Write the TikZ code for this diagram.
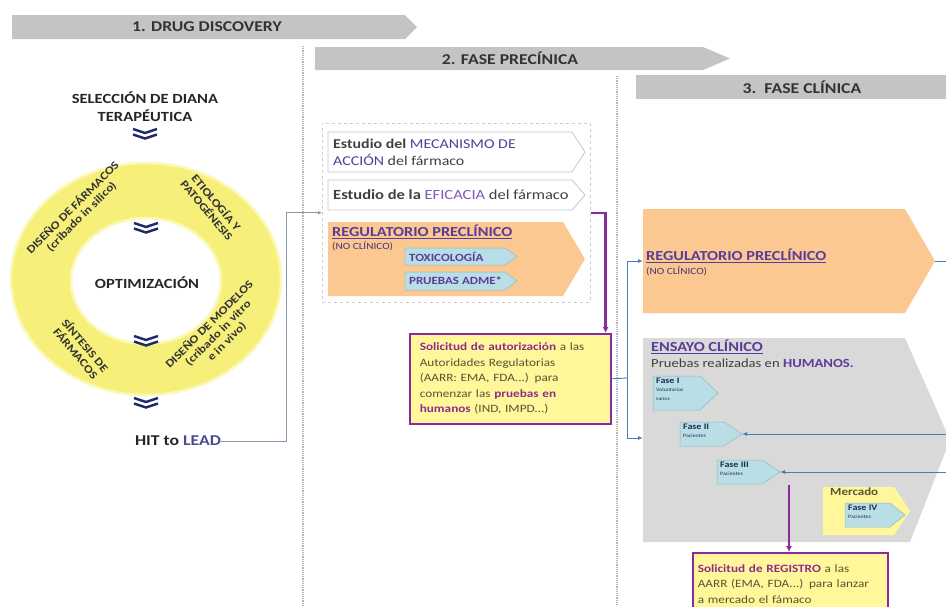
\documentclass[tikz,border=0pt]{standalone}
\usepackage{fontspec}
\setmainfont{Carlito}[FakeStretch=1.18]
\usetikzlibrary{arrows.meta}
\definecolor{bannergrey}{HTML}{C4C4C4}
\definecolor{dotgrey}{HTML}{B4B4B4}
\definecolor{ringyellow}{HTML}{F6F07A}
\definecolor{ringedge}{HTML}{FBF8B8}
\definecolor{navy}{HTML}{1F2A6B}
\definecolor{leadblue}{HTML}{4A4A8C}
\definecolor{hitline}{HTML}{8598A8}
\definecolor{purp}{HTML}{5B3C9A}
\definecolor{purplight}{HTML}{8458BC}
\definecolor{peach}{HTML}{FAC890}
\definecolor{fcyan}{HTML}{B9DEE6}
\definecolor{fcyanedge}{HTML}{8FB8C4}
\definecolor{ensgrey}{HTML}{D9D9D9}
\definecolor{yfill}{HTML}{FFF79A}
\definecolor{pline}{HTML}{8A2A9C}
\definecolor{pboxc}{HTML}{8C2D8C}
\definecolor{boxtext}{HTML}{555533}
\definecolor{bline}{HTML}{4A7EBB}
\definecolor{wedge}{HTML}{C8C8C8}
\definecolor{faseblue}{HTML}{1F3050}
\newcommand\fasesmall{\mdseries\fontsize{5}{5.5}\selectfont}
\tikzset{
  bantext/.style={font=\bfseries\fontsize{15}{17}\selectfont, text=black!80},
  lbold/.style={font=\bfseries\fontsize{14}{18}\selectfont, text=black!85, align=center},
  ringtxt/.style={font=\bfseries\fontsize{11.2}{12.3}\selectfont, text=black!80, align=center},
  dotline/.style={dotgrey, line width=1.2pt, densely dotted},
  wbox/.style={fill=white, draw=wedge, line width=0.8pt},
  midtxt/.style={font=\fontsize{13.5}{17}\selectfont, text=black!75, align=left, anchor=west},
  regtitle/.style={font=\bfseries\fontsize{13.8}{15}\selectfont, text=purp, anchor=west},
  nocl/.style={font=\fontsize{9.5}{10}\selectfont, text=purp!80!black, anchor=west},
  cyanbox/.style={fill=fcyan, draw=fcyanedge, line width=0.5pt},
  cyantxt/.style={font=\bfseries\fontsize{11}{12}\selectfont, text=purp, anchor=west},
  ybox/.style={draw=pline, line width=1.6pt, fill=yfill, align=left, text=boxtext,
    font=\fontsize{11.2}{15.5}\selectfont},
  faset/.style={font=\bfseries\fontsize{8.5}{9}\selectfont, text=faseblue, anchor=north west, align=left},
  purpline/.style={pline, line width=2.4pt, -{Latex[length=6pt,width=6pt]}},
  blueline/.style={bline, line width=0.9pt},
  bluearrow/.style={bline, line width=0.9pt, -{Latex[length=5pt,width=4pt]}},
  chev/.pic={\draw[navy,line width=2.4pt] (-12,-5) -- (0,-1) -- (12,-5);
             \draw[navy,line width=2.4pt] (-12,0.5) -- (0,4.5) -- (12,0.5);}
}
\begin{document}
\begin{tikzpicture}[x=1pt,y=-1pt, every node/.style={inner sep=0pt}]
\useasboundingbox (0,0) rectangle (946,606);
\clip (0,0) rectangle (946,606);
% banners
\fill[bannergrey] (12,15) -- (405,15) -- (417,27) -- (405,39) -- (12,39) -- cycle;
\node[bantext] (b1) at (207,27) {1. DRUG DISCOVERY};
\fill[bannergrey] (315,47) -- (703,47) -- (730,58.5) -- (703,70) -- (315,70) -- cycle;
\node[bantext] (b2) at (510,58.5) {2. FASE PRECÍNICA};
\fill[bannergrey] (636,75) rectangle (946,99);
\node[bantext] (b3) at (802,87) {3.\ \ FASE CLÍNICA};
% dotted separators
\draw[dotline] (303,46) -- (303,606);
\draw[dotline] (617,76) -- (617,606);
% left part
\node[lbold] (sel) at (145,107) {SELECCIÓN DE DIANA\\TERAPÉUTICA};
\fill[ringyellow, even odd rule] (146,279) ellipse [x radius=136pt, y radius=117pt]
      (146,281) ellipse [x radius=74pt, y radius=62pt];
\draw[ringedge, line width=2.5pt] (146,279) ellipse [x radius=135pt, y radius=116pt];
\draw[ringedge, line width=2.5pt] (146,281) ellipse [x radius=75pt, y radius=63pt];
\node[ringtxt, rotate=45] (r1) at (77,212) {DISEÑO DE FÁRMACOS\\(cribado in silico)};
\node[ringtxt, rotate=-50] (r2) at (212,206) {ETIOLOGÍA Y\\PATOGÉNESIS};
\node[ringtxt, rotate=-50] (r3) at (81,349) {SÍNTESIS DE\\FÁRMACOS};
\node[ringtxt, rotate=45] (r4) at (218,333) {DISEÑO DE MODELOS\\(cribado in vitro\\e in vivo)};
\node[lbold] (opt) at (147,283) {OPTIMIZACIÓN};
\pic at (145,134) {chev};
\pic at (146,228) {chev};
\pic at (146,341) {chev};
\pic at (146,403) {chev};
\node[lbold, font=\bfseries\fontsize{15}{18}\selectfont] (hit) at (178,441) {HIT to \textcolor{leadblue}{LEAD}};
% middle part
\node[draw=black!20, dashed, line width=0.6pt, minimum width=268pt, minimum height=179pt, anchor=north west] (grp) at (322,123) {};
\path[wbox] (328,132) -- (572,132) -- (585,152) -- (572,172) -- (328,172) -- cycle;
\node[midtxt] (mec) at (333,152) {\textbf{Estudio del} \textcolor{purp}{MECANISMO DE}\\\textcolor{purp}{ACCIÓN} del fármaco};
\path[wbox] (328,180) -- (572,180) -- (585,195) -- (572,210) -- (328,210) -- cycle;
\node[midtxt, font=\fontsize{14}{17}\selectfont] (efi) at (333,195) {\textbf{Estudio de la} \textcolor{purplight}{EFICACIA} del fármaco};
\fill[peach] (328,222) -- (563,222) -- (585,259) -- (563,296) -- (328,296) -- cycle;
\node[regtitle] (reg1) at (332,232) {\underline{REGULATORIO PRECLÍNICO}};
\node[nocl] (nc1) at (332,246) {(NO CLÍNICO)};
\path[cyanbox] (405,248) -- (505,248) -- (517,256.5) -- (505,265) -- (405,265) -- cycle;
\node[cyantxt] (tox) at (409,256.5) {TOXICOLOGÍA};
\path[cyanbox] (405,272) -- (505,272) -- (517,281) -- (505,290) -- (405,290) -- cycle;
\node[cyantxt] (adme) at (409,281) {PRUEBAS ADME*};
\node[ybox, anchor=north west, inner xsep=10pt, text width=181pt, minimum height=90pt] (auth) at (409,333)
 {\textcolor{pboxc}{\bfseries Solicitud de autorización} a las\\Autoridades Regulatorias\\(AARR: EMA, FDA...) para\\comenzar las \textcolor{pboxc}{\bfseries pruebas en}\\\textcolor{pboxc}{\bfseries humanos} (IND, IMPD...)};
% right part
\fill[peach] (643,209) -- (905,209) -- (935,261) -- (905,313) -- (643,313) -- cycle;
\node[regtitle] (reg2) at (646,256) {\underline{REGULATORIO PRECLÍNICO}};
\node[nocl] (nc2) at (646,271) {(NO CLÍNICO)};
\fill[ensgrey] (643,338) -- (905,338) -- (950,440) -- (910,542) -- (643,542) -- cycle;
\node[regtitle] (ens) at (651,347) {\underline{ENSAYO CLÍNICO}};
\node[midtxt, font=\fontsize{12.4}{14}\selectfont] (hum) at (651,363) {Pruebas realizadas en \textcolor{purp}{\bfseries HUMANOS.}};
\path[cyanbox] (653,376) -- (700,376) -- (718,393) -- (700,410) -- (653,410) -- cycle;
\node[faset] (f1) at (656,378) {Fase I\\[-1pt]\fasesmall Voluntarios\\\fasesmall sanos};
\path[cyanbox] (680,422) -- (724,422) -- (742,434) -- (724,446) -- (680,446) -- cycle;
\node[faset] (f2) at (683,423.5) {Fase II\\[-1pt]\fasesmall Pacientes};
\path[cyanbox] (717,460) -- (762,460) -- (780,472) -- (762,484) -- (717,484) -- cycle;
\node[faset] (f3) at (720,461.5) {Fase III\\[-1pt]\fasesmall Pacientes};
\fill[yfill] (823,487) -- (894,487) -- (910,511) -- (894,535) -- (823,535) -- cycle;
\node[faset, text=boxtext, font=\bfseries\fontsize{11}{12}\selectfont] (merc) at (830,488) {Mercado};
\path[cyanbox] (845,503) -- (890,503) -- (905,515) -- (890,527) -- (845,527) -- cycle;
\node[faset] (f4) at (848,504.5) {Fase IV\\[-1pt]\fasesmall Pacientes};
\node[ybox, anchor=north west, inner xsep=5pt, text width=185pt, minimum height=62pt] (regst) at (692,552)
 {\textcolor{pboxc}{\bfseries Solicitud de REGISTRO} a las\\AARR (EMA, FDA...) para lanzar\\a mercado el fámaco};
% connectors
\draw[hitline, line width=1pt, -{Latex[length=4pt,width=3.5pt]}] (hit.east) -| ([xshift=-36pt]grp.west) -- (grp.west);
\draw[purpline] (grp.east) -| ([xshift=-6pt]auth.north east);
\coordinate (jn) at (627,378);
\draw[blueline] (auth.east) -- (jn);
\draw[bluearrow] (jn) |- (643,261);
\draw[bluearrow] (jn) |- (643,438);
\coordinate (regout) at (950,261);
\draw[blueline] (935,261) -- (regout);
\coordinate (in2) at (950,434);
\coordinate (in3) at (950,472);
\draw[bluearrow] (in2) -- (742,434);
\draw[bluearrow] (in3) -- (780,472);
\coordinate (f3out) at (789,485);
\draw[purpline] (f3out) -- (regst.north -| f3out);
\end{tikzpicture}
\end{document}
